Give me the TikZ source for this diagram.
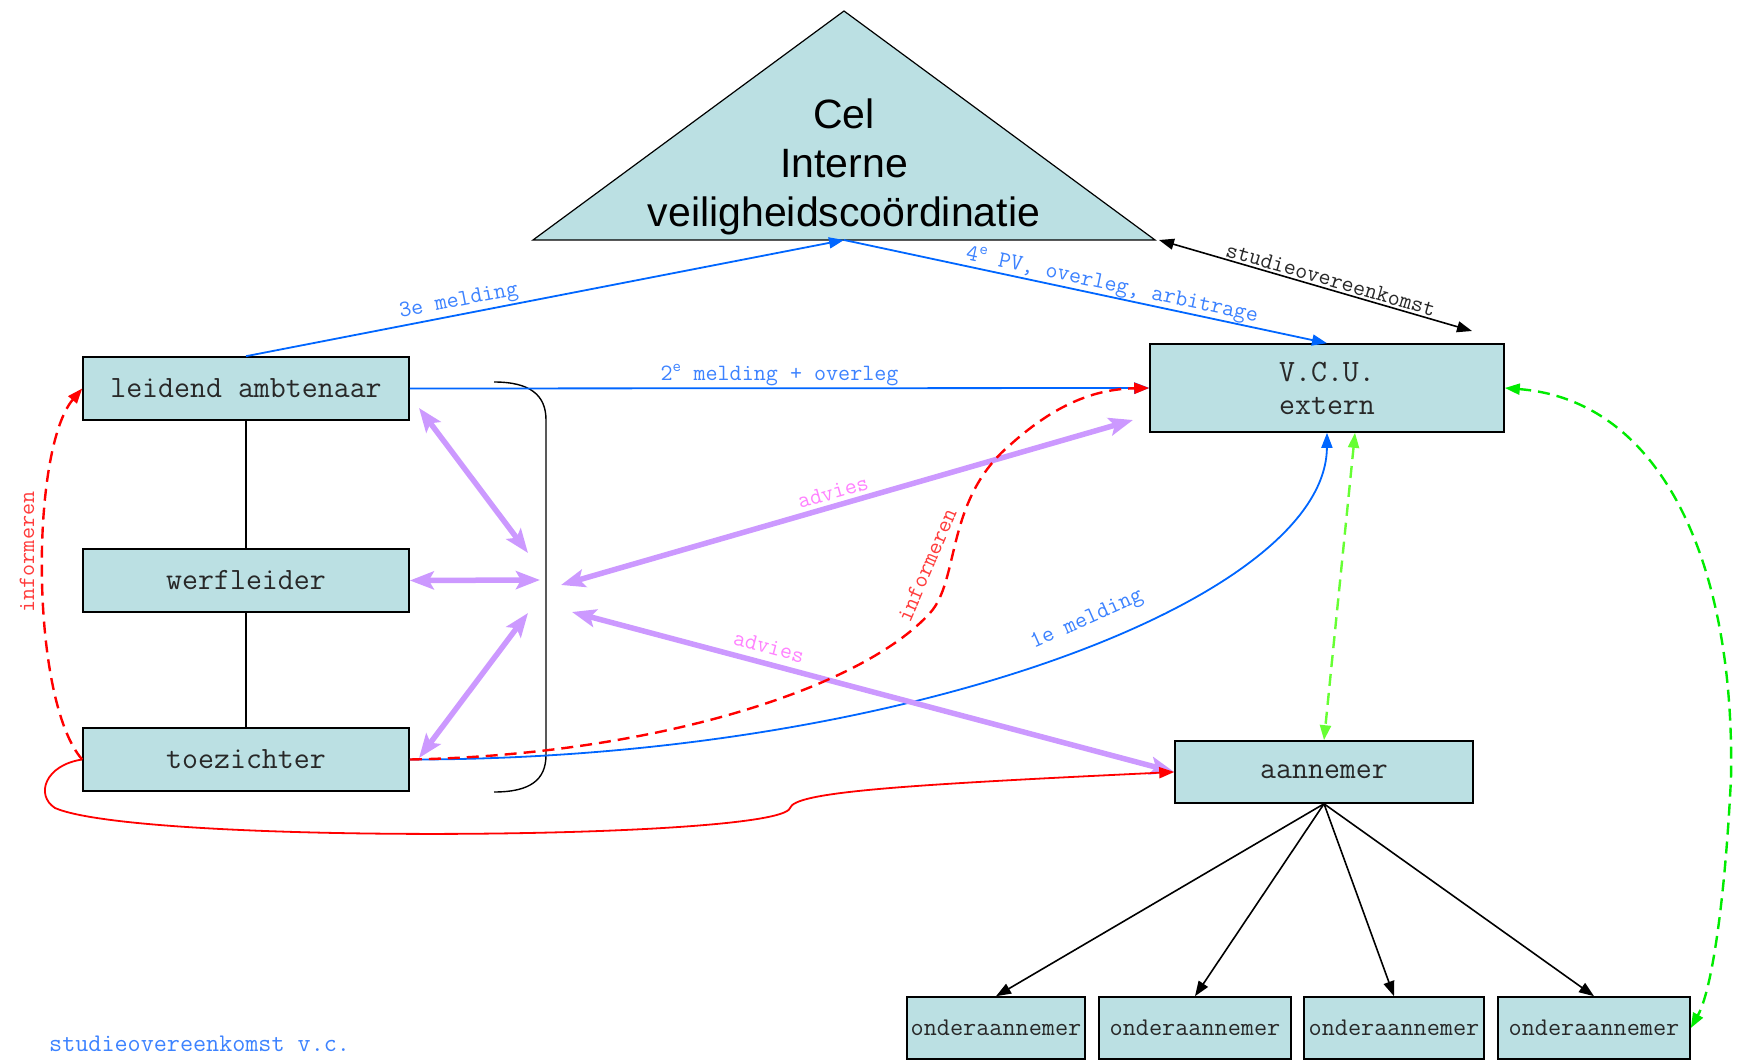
\documentclass[tikz,border=0pt]{standalone}
\usepackage{fontspec}
\setmainfont{Liberation Sans}
\usetikzlibrary{arrows.meta}
\definecolor{boxfill}{RGB}{187,224,227}
\definecolor{txtgray}{RGB}{40,40,40}
\definecolor{lineblue}{RGB}{0,102,255}
\definecolor{lblblue}{RGB}{60,130,255}
\definecolor{purp}{RGB}{204,153,255}
\definecolor{pinklbl}{RGB}{255,130,255}
\definecolor{lblred}{RGB}{255,60,60}
\definecolor{greenA}{RGB}{102,255,51}
\definecolor{greenB}{RGB}{0,235,0}
\begin{document}
\begin{tikzpicture}[x=1pt,y=-1pt,
  box/.style={draw=black, line width=1.6pt, fill=boxfill, inner sep=0pt, text=txtgray, align=center,
    font=\fontsize{31}{33}\selectfont\ttfamily},
  subbox/.style={box, minimum height=62pt, font=\fontsize{25.5}{28}\selectfont\ttfamily},
  lbl/.style={inner sep=2pt, font=\fontsize{23.4}{26}\selectfont\ttfamily},
  bl/.style={draw=lineblue, line width=1.8pt, -{Triangle[length=15pt,width=11pt]}},
  blk/.style={draw=black, line width=1.6pt},
  purparrow/.style={draw=purp, line width=5.5pt, {Stealth[length=24pt,width=18pt,inset=5pt]}-{Stealth[length=24pt,width=18pt,inset=5pt]}},
  reddash/.style={draw=red, line width=2.4pt, dash pattern=on 12pt off 7pt},
  greendash/.style={line width=2.4pt, dash pattern=on 12pt off 7pt, {Triangle[length=15pt,width=11pt]}-{Triangle[length=15pt,width=11pt]}}
]
\useasboundingbox (0,0) rectangle (1742,1064);

% triangle
\coordinate (ta) at (844,11);
\coordinate (tl) at (533,240);
\coordinate (tr) at (1155,240);
\coordinate (tb) at (844,240);
\filldraw[fill=boxfill, draw=black, line width=1.2pt] (tl) -- (ta) -- (tr) -- cycle;
\node[align=center, font=\fontsize{41}{49}\selectfont, inner sep=0pt] (cel) at (844,167) {Cel\\Interne\\veiligheidscoördinatie};

% boxes
\node[box, minimum width=326pt, minimum height=63pt] (leid) at (246,388.5) {leidend ambtenaar};
\node[box, minimum width=326pt, minimum height=63pt] (werf) at (246,580.5) {werfleider};
\node[box, minimum width=326pt, minimum height=63pt] (toez) at (246,759.5) {toezichter};
\node[box, minimum width=354pt, minimum height=88pt] (vcu) at (1327,388) {V.C.U.\\extern};
\node[box, minimum width=298pt, minimum height=62pt] (aann) at (1324,772) {aannemer};
\node[subbox, minimum width=178pt] (o1) at (996,1028) {onderaannemer};
\node[subbox, minimum width=192pt] (o2) at (1195,1028) {onderaannemer};
\node[subbox, minimum width=180pt] (o3) at (1394,1028) {onderaannemer};
\node[subbox, minimum width=192pt] (o4) at (1594,1028) {onderaannemer};

% hierarchy lines
\draw[blk] (leid.south) -- (werf.north);
\draw[blk] (werf.south) -- (toez.north);

% bracket
\coordinate (bt) at (494,382);
\coordinate (bb) at (494,792);
\draw[black, line width=1.4pt] (bt) .. controls (530,382) and (546,395) .. (546,420) -- (546,755) .. controls (546,780) and (530,792) .. (bb);

% blue connectors
\draw[bl] (leid.north) -- node[lbl, text=lblblue, pos=0.36, above, sloped] {3e melding} (tb);
\draw[bl] (tb) -- node[lbl, text=lblblue, pos=0.55, above, sloped, inner sep=0pt] {4\textsuperscript{e} PV, overleg, arbitrage} (vcu.north);
\draw[bl] (leid.east) -- node[lbl, text=lblblue, pos=0.5, above, inner sep=1pt] {2\textsuperscript{e} melding + overleg} (vcu.west);
\draw[bl] (toez.east) .. controls (900,760) and (1326,600) .. (vcu.south);
\node[lbl, text=lblblue, rotate=24] (l1e) at (1087,620) {1e melding};

% studieovereenkomst
\coordinate (se) at (1472,331);
\coordinate (ts) at (1159,240);
\draw[blk, {Triangle[length=15pt,width=11pt]}-{Triangle[length=15pt,width=11pt]}] (ts) -- node[lbl, text=txtgray, pos=0.54, above, sloped] {studieovereenkomst} (se);

% purple arrows
\coordinate (p1a) at (419,408); \coordinate (p1b) at (528,553);
\coordinate (p2b) at (540,580);
\coordinate (p3a) at (419,758); \coordinate (p3b) at (528,613);
\coordinate (p4a) at (1133,420); \coordinate (p4b) at (561,585);
\coordinate (p5a) at (572,612);
\draw[purparrow] (p1a) -- (p1b);
\draw[purparrow] (werf.east) -- (p2b);
\draw[purparrow] (p3a) -- (p3b);
\draw[purparrow] (p4a) -- (p4b);
\draw[purparrow] (p5a) -- (aann.west);
\node[lbl, text=pinklbl, rotate=16] (adv1) at (833,492) {advies};
\node[lbl, text=pinklbl, rotate=-15] (adv2) at (769,647) {advies};

% red connectors
\draw[reddash, -{Triangle[length=15pt,width=11pt]}] (toez.west) .. controls (30,700) and (30,450) .. (leid.west);
\node[lbl, text=lblred, rotate=90] (inf1) at (27,552) {informeren};
\draw[reddash, -{Triangle[length=15pt,width=11pt]}] (toez.east) .. controls (650,755) and (860,690) .. (930,613) .. controls (960,580) and (945,500) .. (1010,445) .. controls (1060,400) and (1100,389) .. (vcu.west);
\node[lbl, text=lblred, rotate=67] (inf2) at (927,565) {informeren};
\draw[red, line width=1.8pt, -{Triangle[length=15pt,width=11pt]}] (toez.west) .. controls (45,765) and (35,795) .. (55,808) .. controls (140,845) and (780,840) .. (790,808) .. controls (795,792) and (900,785) .. (aann.west);

% green connectors
\draw[greendash, draw=greenA, color=greenA] ([xshift=28pt]vcu.south) -- (aann.north);
\draw[greendash, draw=greenB, color=greenB] (vcu.east) .. controls (1660,400) and (1735,560) .. (1731,778) .. controls (1725,900) and (1712,990) .. (o4.east);

% subcontractor arrows
\foreach \o in {o1,o2,o3,o4}
  \draw[blk, -{Triangle[length=15pt,width=11pt]}] (aann.south) -- (\o.north);

% bottom note
\node[anchor=west, inner sep=0pt, text=lblblue, font=\fontsize{25.4}{28}\selectfont\ttfamily] (note) at (49,1044) {studieovereenkomst v.c.};
\end{tikzpicture}
\end{document}
